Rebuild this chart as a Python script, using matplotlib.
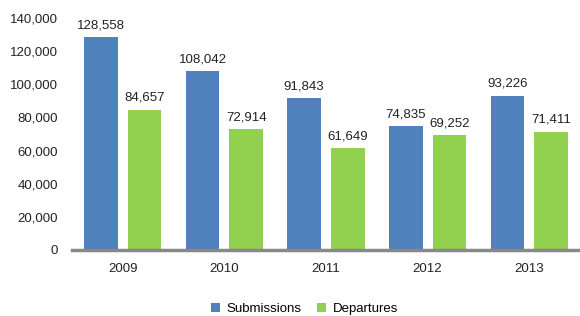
import matplotlib
matplotlib.use("Agg")
import matplotlib.pyplot as plt
import numpy as np

years = ["2009", "2010", "2011", "2012", "2013"]
submissions = [128558, 108042, 91843, 74835, 93226]
departures = [84657, 72914, 61649, 69252, 71411]
series_names = ["Submissions", "Departures"]
colors = ["#4F81BD", "#92D050"]

plt.rcParams['font.family'] = ['Liberation Sans', 'DejaVu Sans']

fig = plt.figure(figsize=(5.8, 3.16), dpi=100)
ax = fig.add_axes([72/580, 1 - 250/316, (580-72)/580, (250-18)/316])

x = np.arange(len(years))
w = 0.33
off = 0.215
b1 = ax.bar(x - off, submissions, w, color=colors[0], label=series_names[0], zorder=2)
b2 = ax.bar(x + off, departures, w, color=colors[1], label=series_names[1], zorder=2)
for bars in (b1, b2):
    for r in bars:
        ax.text(r.get_x() + r.get_width()/2, r.get_height() + 3500, f"{int(r.get_height()):,}",
                ha='center', va='bottom', fontsize=9.5, color='#222222')

ax.set_xlim(-0.5, len(years) - 0.5)
ax.set_ylim(0, 140000)
ax.set_yticks(np.arange(0, 140001, 20000))
ax.set_yticklabels([f"{v:,}" for v in range(0, 140001, 20000)])
ax.set_xticks(x)
ax.set_xticklabels(years)
for s in ['top', 'right', 'left']:
    ax.spines[s].set_visible(False)
ax.spines['bottom'].set_color('#888888')
ax.spines['bottom'].set_linewidth(2.5)
ax.tick_params(axis='both', length=0, labelsize=9.5, colors='#222222')
ax.tick_params(axis='x', pad=9)
ax.tick_params(axis='y', pad=10)

fig.legend(loc='lower center', bbox_to_anchor=(0.525, -0.035), ncol=2, frameon=False,
           fontsize=9.5, handlelength=0.7, handleheight=0.7, columnspacing=1.2, handletextpad=0.5)

fig.savefig("out.png", dpi=100)
